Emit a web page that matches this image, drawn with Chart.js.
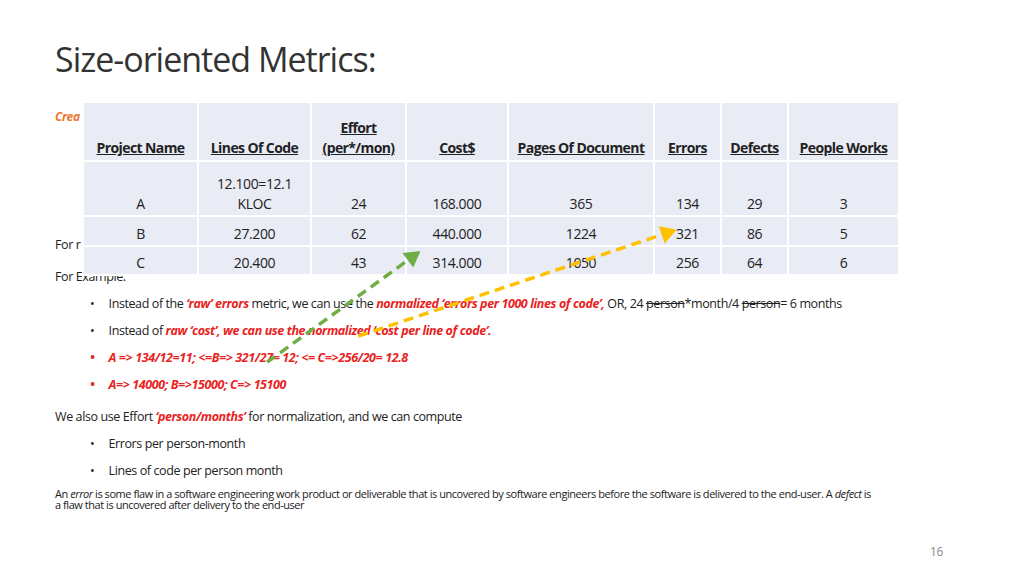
<!DOCTYPE html>
<html lang="en">
<head>
<meta charset="UTF-8">
<title>Size-oriented Metrics</title>
<script src="https://cdn.jsdelivr.net/npm/chart.js"></script>
<style>
  body { margin:0; width:1024px; height:576px; background:#fff; position:relative; overflow:hidden;
         font-family:"Open Sans",sans-serif; color:#222; letter-spacing:-0.4px; }
  .abs { position:absolute; white-space:nowrap; }
  h1 { position:absolute; left:55px; top:36px; margin:0; font-family:"Open Sans",sans-serif; font-weight:400; font-size:34px; letter-spacing:-1px; color:#333; }
  .red { color:#e8231e; font-style:italic; font-weight:bold; }
  table { position:absolute; left:82px; top:101px; border-collapse:collapse; background:#e9ebf5; font-size:14px; table-layout:fixed; }
  td, th { border:2px solid #fff; text-align:center; padding:0; line-height:20px; white-space:nowrap; }
  th { font-weight:bold; vertical-align:bottom; padding-bottom:2px; text-decoration:underline; letter-spacing:-0.6px; }
  td { vertical-align:bottom; padding-bottom:1px; }
  .small { font-size:12.5px; }
  #arrows { position:absolute; left:0; top:0; }
</style>
</head>
<body>
<h1>Size-oriented Metrics:</h1>
<div class="abs" style="left:55px;top:108px;font-size:12px;color:#e8762c;font-style:italic;font-weight:bold">Crea</div>
<div class="abs small" style="left:55px;top:236px">For r</div>
<div class="abs small" style="left:55px;top:268px">For Example:</div>
<table id="tbl"></table>
<div class="abs small" style="left:90px;top:295px">•&nbsp;&nbsp;&nbsp;&nbsp;&nbsp;Instead of the <span class="red">‘raw’ errors</span> metric, we can use the <span class="red">normalized ‘errors per 1000 lines of code’,</span> OR, 24 <s>person</s>*month/4 <s>person</s>= 6 months</div>
<div class="abs small" style="left:90px;top:322px">•&nbsp;&nbsp;&nbsp;&nbsp;&nbsp;Instead of <span class="red">raw ‘cost’, we can use the normalized ‘cost per line of code’.</span></div>
<div class="abs small red" style="left:90px;top:349px">•&nbsp;&nbsp;&nbsp;&nbsp;&nbsp;A =&gt; 134/12=11; &lt;=B=&gt; 321/27= 12; &lt;= C=&gt;256/20= 12.8</div>
<div class="abs small red" style="left:90px;top:376px">•&nbsp;&nbsp;&nbsp;&nbsp;&nbsp;A=&gt; 14000; B=&gt;15000; C=&gt; 15100</div>
<div class="abs small" style="left:55px;top:408px">We also use Effort <span class="red">‘person/months’</span> for normalization, and we can compute</div>
<div class="abs small" style="left:90px;top:435px">•&nbsp;&nbsp;&nbsp;&nbsp;&nbsp;Errors per person-month</div>
<div class="abs small" style="left:90px;top:462px">•&nbsp;&nbsp;&nbsp;&nbsp;&nbsp;Lines of code per person month</div>
<div class="abs" style="left:55px;top:488px;font-size:11px;line-height:11px;letter-spacing:-0.45px">An <i>error</i> is some flaw in a software engineering work product or deliverable that is uncovered by software engineers before the software is delivered to the end-user. A <i>defect</i> is<br>a flaw that is uncovered after delivery to the end-user</div>
<div class="abs" style="left:930px;top:543px;font-size:12px;color:#888">16</div>
<canvas id="arrows" width="1024" height="576"></canvas>
<script>
const headers = ['Project Name', 'Lines Of Code', 'Effort<br>(per*/mon)', 'Cost$', 'Pages Of Document', 'Errors', 'Defects', 'People Works'];
const projects = ['A', 'B', 'C'];
const linesOfCode = ['12.100=12.1<br>KLOC', '27.200', '20.400'];
const effort = [24, 62, 43];
const cost = ['168.000', '440.000', '314.000'];
const pages = [365, 1224, 1050];
const errors = [134, 321, 256];
const defects = [29, 86, 64];
const people = [3, 5, 6];
const colWidths = [115, 113, 95, 102, 146, 67, 67, 111];
const rowHeights = [59, 55, 30, 29];

// arrows (slide annotations): start/end in page pixels
const greenArrow = [{x: 262, y: 365}, {x: 410, y: 256}];
const yellowArrow = [{x: 355, y: 338}, {x: 670, y: 231}];

const tbl = document.getElementById('tbl');
let html = '<tr>' + headers.map((h, i) => `<th style="width:${colWidths[i]-2}px;height:${rowHeights[0]-4}px">${h}</th>`).join('') + '</tr>';
projects.forEach((p, r) => {
  const cells = [p, linesOfCode[r], effort[r], cost[r], pages[r], errors[r], defects[r], people[r]];
  html += '<tr>' + cells.map(c => `<td style="height:${rowHeights[r+1]-3}px">${c}</td>`).join('') + '</tr>';
});
tbl.innerHTML = html;

function heading(a) {
  const dx = a[1].x - a[0].x, dy = a[1].y - a[0].y;
  return Math.atan2(dx, -dy) * 180 / Math.PI;
}
function arrowSet(pts, color) {
  return {
    data: pts, showLine: true, borderColor: color, borderWidth: 3.5, borderDash: [10, 6],
    pointStyle: 'triangle', pointRadius: [0, 7], pointRotation: heading(pts),
    pointBackgroundColor: color, pointBorderColor: color
  };
}
new Chart(document.getElementById('arrows'), {
  type: 'scatter',
  data: { datasets: [arrowSet(greenArrow, '#70ad47'), arrowSet(yellowArrow, '#ffc000')] },
  options: {
    responsive: false, animation: false, layout: { padding: 0 },
    plugins: { legend: { display: false }, tooltip: { enabled: false } },
    scales: {
      x: { type: 'linear', min: 0, max: 1024, display: false },
      y: { type: 'linear', min: 0, max: 576, reverse: true, display: false }
    }
  }
});
</script>
</body>
</html>
